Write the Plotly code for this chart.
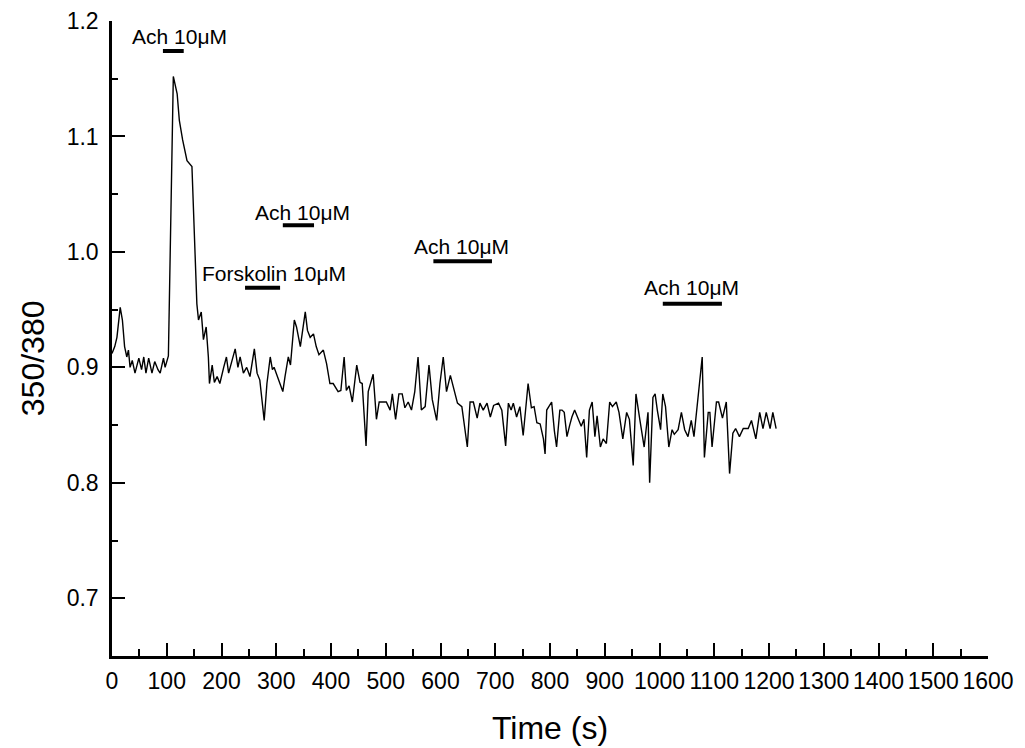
import plotly.graph_objects as go

# ---- data ----
time_s = [0, 5, 9, 12, 15, 19, 23, 27, 30, 33, 37, 42, 49, 54, 58, 62, 67, 73, 78, 84,
          88, 94, 97, 103, 112, 119, 123, 129, 137, 146, 155, 158, 163, 167, 172, 176, 178, 183, 187, 192,
          197, 204, 209, 213, 219, 225, 230, 234, 240, 246, 252, 260, 265, 270, 278, 283, 289, 293, 296, 304,
          312, 316, 322, 326, 333, 337, 344, 353, 357, 362, 368, 373, 378, 386, 392, 398, 404, 413, 418, 424,
          428, 433, 439, 447, 453, 457, 464, 468, 477, 483, 488, 495, 501, 508, 512, 518, 524, 530, 535, 541,
          547, 553, 559, 565, 572, 579, 585, 593, 599, 605, 611, 618, 624, 631, 639, 649, 654, 660, 667, 672,
          678, 685, 691, 697, 706, 712, 719, 724, 729, 733, 739, 745, 751, 760, 766, 771, 776, 782, 788, 791,
          794, 803, 808, 812, 818, 822, 826, 831, 836, 840, 845, 850, 857, 862, 867, 872, 877, 882, 886, 892,
          897, 903, 909, 914, 921, 926, 933, 940, 945, 952, 957, 964, 972, 979, 982, 988, 992, 996, 1002, 1006,
          1011, 1017, 1023, 1027, 1034, 1040, 1046, 1052, 1058, 1063, 1069, 1078, 1082, 1089, 1092, 1096, 1104, 1108, 1115, 1122,
          1128, 1134, 1139, 1146, 1153, 1162, 1168, 1176, 1183, 1189, 1195, 1202, 1207, 1213]
ratio = [0.912, 0.918, 0.926, 0.938, 0.952, 0.941, 0.918, 0.909, 0.915, 0.900, 0.906, 0.895, 0.908, 0.898, 0.909, 0.895, 0.908, 0.895, 0.905, 0.898,
         0.895, 0.908, 0.900, 0.910, 1.152, 1.137, 1.114, 1.097, 1.079, 1.074, 0.955, 0.941, 0.948, 0.924, 0.935, 0.909, 0.886, 0.902, 0.887, 0.892,
         0.886, 0.900, 0.909, 0.895, 0.906, 0.916, 0.900, 0.909, 0.895, 0.900, 0.892, 0.916, 0.895, 0.889, 0.854, 0.886, 0.909, 0.898, 0.900, 0.889,
         0.879, 0.892, 0.909, 0.902, 0.941, 0.935, 0.918, 0.948, 0.932, 0.926, 0.929, 0.918, 0.911, 0.915, 0.903, 0.886, 0.886, 0.879, 0.880, 0.909,
         0.880, 0.884, 0.870, 0.902, 0.887, 0.886, 0.832, 0.879, 0.894, 0.855, 0.870, 0.870, 0.870, 0.863, 0.877, 0.855, 0.877, 0.877, 0.865, 0.870,
         0.863, 0.879, 0.909, 0.863, 0.866, 0.902, 0.872, 0.854, 0.886, 0.909, 0.879, 0.893, 0.883, 0.869, 0.866, 0.831, 0.870, 0.870, 0.856, 0.869,
         0.863, 0.869, 0.857, 0.867, 0.869, 0.863, 0.832, 0.869, 0.863, 0.869, 0.857, 0.866, 0.841, 0.886, 0.865, 0.866, 0.852, 0.851, 0.838, 0.825,
         0.863, 0.870, 0.845, 0.831, 0.863, 0.863, 0.861, 0.840, 0.850, 0.857, 0.863, 0.857, 0.849, 0.855, 0.822, 0.863, 0.870, 0.840, 0.858, 0.831,
         0.838, 0.834, 0.870, 0.866, 0.870, 0.861, 0.838, 0.861, 0.855, 0.815, 0.877, 0.855, 0.831, 0.861, 0.800, 0.874, 0.877, 0.863, 0.846, 0.877,
         0.866, 0.831, 0.846, 0.842, 0.846, 0.861, 0.846, 0.840, 0.854, 0.840, 0.866, 0.909, 0.822, 0.861, 0.861, 0.831, 0.870, 0.870, 0.856, 0.870,
         0.808, 0.843, 0.847, 0.840, 0.847, 0.847, 0.854, 0.838, 0.861, 0.847, 0.861, 0.847, 0.861, 0.847]

# drug applications: label, start (s), end (s), bar level, label x (s), label y
drug_labels = ["Ach 10μM", "Forskolin 10μM", "Ach 10μM", "Ach 10μM", "Ach 10μM"]
drug_start = [93, 243, 312, 587, 1006]
drug_end = [131, 307, 369, 694, 1114]
drug_level = [1.174, 0.969, 1.023, 0.992, 0.955]
label_x = [124, 296, 348, 639, 1058]
label_y = [1.187, 0.981, 1.034, 1.005, 0.969]

x_ticks = list(range(0, 1601, 100))
y_ticks = [0.7, 0.8, 0.9, 1.0, 1.1, 1.2]
x_title = "Time (s)"
y_title = "350/380"

FONT = "Liberation Sans, Arial, Helvetica, sans-serif"

fig = go.Figure()
fig.add_trace(go.Scatter(x=time_s, y=ratio, mode="lines",
                         line=dict(color="black", width=1.4), showlegend=False))

for s, e, lv in zip(drug_start, drug_end, drug_level):
    fig.add_shape(type="line", x0=s, x1=e, y0=lv, y1=lv, xref="x", yref="y",
                  line=dict(color="black", width=4))

for txt, lx, ly in zip(drug_labels, label_x, label_y):
    fig.add_annotation(x=lx, y=ly, xref="x", yref="y", text=txt, showarrow=False,
                       font=dict(family=FONT, size=21, color="black"),
                       xanchor="center", yanchor="middle")

# y-axis title sits a little below the middle of the axis in the reference
fig.add_annotation(x=0, y=0.469, xref="paper", yref="paper", xshift=-79,
                   text=y_title, textangle=-90, showarrow=False,
                   font=dict(family=FONT, size=32, color="black"),
                   xanchor="center", yanchor="middle")

# page body has an 8px margin, so the figure is sized to fit inside the window
fig.update_layout(
    width=1017, height=740,
    margin=dict(l=104, r=37, t=13, b=92),
    plot_bgcolor="white", paper_bgcolor="white",
    font=dict(family=FONT, color="black"),
)
fig.update_xaxes(
    range=[0, 1600], tickvals=x_ticks, ticktext=[str(v) for v in x_ticks],
    ticks="inside", ticklen=13, tickwidth=2, tickcolor="black",
    minor=dict(dtick=50, tick0=0, ticks="inside", ticklen=7, tickwidth=2, tickcolor="black", showgrid=False),
    showline=True, linecolor="black", linewidth=2.5, showgrid=False, zeroline=False,
    tickfont=dict(family=FONT, size=23, color="black"), ticklabelstandoff=3,
    title=dict(text=x_title, font=dict(family=FONT, size=32, color="black"), standoff=24),
    automargin=False,
)
fig.update_yaxes(
    range=[0.65, 1.2], tickvals=y_ticks, ticktext=["%.1f" % v for v in y_ticks],
    ticks="inside", ticklen=13, tickwidth=2, tickcolor="black",
    minor=dict(dtick=0.05, tick0=0.65, ticks="inside", ticklen=6, tickwidth=2, tickcolor="black", showgrid=False),
    showline=True, linecolor="black", linewidth=2.5, showgrid=False, zeroline=False,
    tickfont=dict(family=FONT, size=23, color="black"), ticklabelstandoff=6,
    automargin=False,
)

fig.write_html("out.html")
